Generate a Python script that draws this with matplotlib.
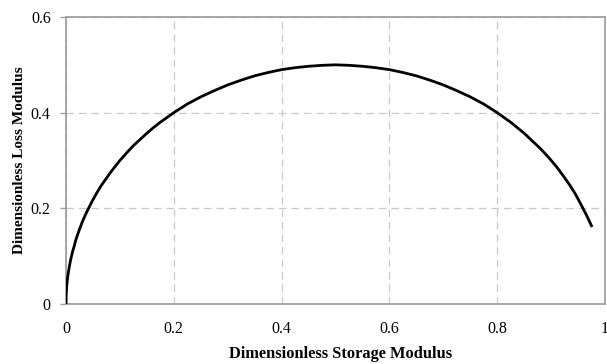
import matplotlib
matplotlib.use("Agg")
import matplotlib.pyplot as plt

# Values
storage_modulus = [0.0, 0.0005, 0.001, 0.002, 0.003, 0.0045, 0.006, 0.008, 0.01, 0.0125,
                   0.015, 0.0175, 0.02, 0.025, 0.03, 0.035, 0.04, 0.045, 0.05, 0.0575,
                   0.065, 0.0725, 0.08, 0.09, 0.1, 0.1125, 0.125, 0.1375, 0.15, 0.1625,
                   0.175, 0.1875, 0.2, 0.225, 0.25, 0.275, 0.3, 0.325, 0.35, 0.375,
                   0.4, 0.425, 0.45, 0.475, 0.5, 0.525, 0.55, 0.575, 0.6, 0.625,
                   0.65, 0.675, 0.7, 0.725, 0.75, 0.775, 0.8, 0.825, 0.85, 0.865,
                   0.88, 0.895, 0.91, 0.9225, 0.935, 0.945, 0.955, 0.966, 0.976]
loss_modulus = [0.0, 0.022, 0.032, 0.045, 0.055, 0.067, 0.077, 0.089, 0.099, 0.111,
                0.12, 0.131, 0.14, 0.156, 0.171, 0.184, 0.196, 0.207, 0.218, 0.233,
                0.247, 0.259, 0.271, 0.286, 0.30, 0.316, 0.331, 0.344, 0.357, 0.369,
                0.38, 0.39, 0.40, 0.418, 0.433, 0.446, 0.458, 0.468, 0.477, 0.484,
                0.49, 0.494, 0.497, 0.499, 0.50, 0.499, 0.497, 0.494, 0.49, 0.484,
                0.477, 0.468, 0.458, 0.446, 0.433, 0.418, 0.40, 0.38, 0.357, 0.341,
                0.325, 0.307, 0.287, 0.268, 0.248, 0.23, 0.209, 0.185, 0.161]

x_ticks = [0, 0.2, 0.4, 0.6, 0.8, 1]
x_tick_labels = ["0", "0.2", "0.4", "0.6", "0.8", "1"]
y_ticks = [0, 0.2, 0.4, 0.6]
y_tick_labels = ["0", "0.2", "0.4", "0.6"]

plt.rcParams['font.family'] = ['Liberation Serif', 'DejaVu Serif']

fig = plt.figure(figsize=(6.07, 3.64), dpi=100)
ax = fig.add_axes([66/607, 1 - 304/364, 539/607, 287/364])

ax.plot(storage_modulus, loss_modulus, color='black', lw=2.0, solid_capstyle='butt',
        solid_joinstyle='round', zorder=3)

ax.set_xlim(0, 1)
ax.set_ylim(0, 0.6)
ax.set_xticks(x_ticks)
ax.set_xticklabels(x_tick_labels)
ax.set_yticks(y_ticks)
ax.set_yticklabels(y_tick_labels)

ax.grid(True, color='#c8c8c8', linestyle=(0, (6, 4)), lw=0.9)
for s in ax.spines.values():
    s.set_color('#a0a0a0')
    s.set_linewidth(1.3)

ax.tick_params(axis='y', length=4, color='#a0a0a0', labelsize=11.5, pad=7, width=1.0)
ax.tick_params(axis='x', length=0, labelsize=11.5, pad=12)

ax.set_xlabel("Dimensionless Storage Modulus", fontsize=11.8, fontweight='bold', va='center')
ax.xaxis.set_label_coords((341 - 66) / 539, (304 - 354) / 287)
ax.set_ylabel("Dimensionless Loss Modulus", fontsize=11, fontweight='bold', va='center')
ax.yaxis.set_label_coords((20 - 66) / 539, 0.5)

fig.savefig("out.png", dpi=100)
